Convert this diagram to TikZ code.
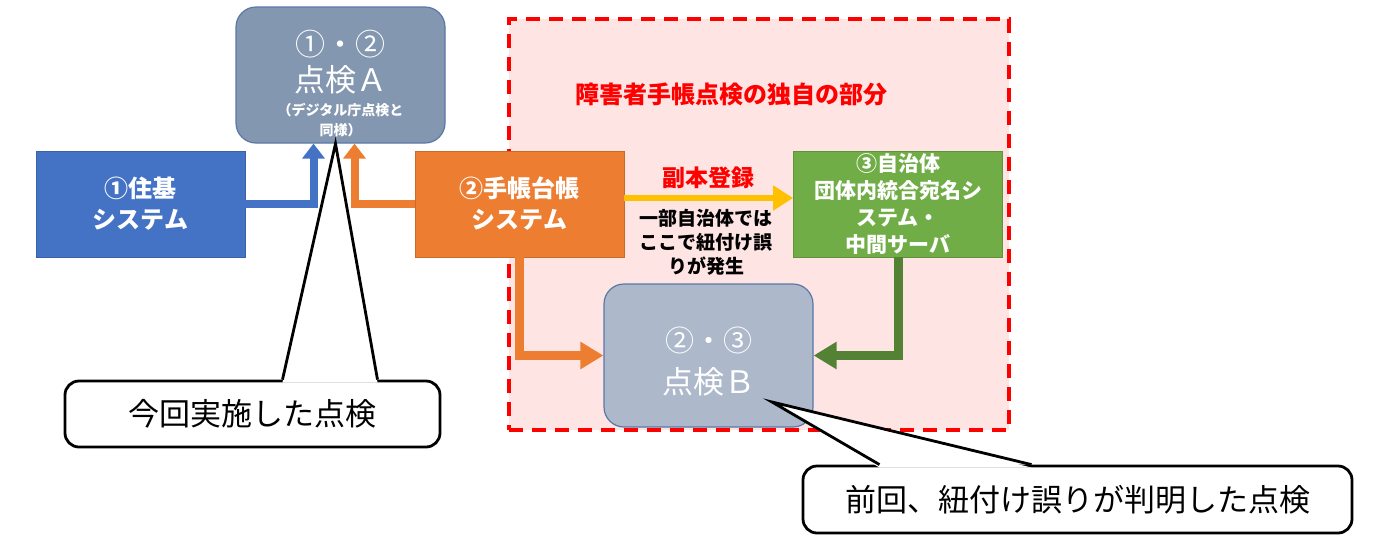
\documentclass[tikz,border=0pt]{standalone}
\usepackage{fontspec}
\setmainfont{Noto Sans CJK JP}
\usetikzlibrary{arrows.meta}
\definecolor{zonefill}{HTML}{FFE4E4}
\definecolor{zonered}{HTML}{FF0000}
\definecolor{afill}{HTML}{8497B0}
\definecolor{bfill}{HTML}{ADB9CA}
\definecolor{abord}{HTML}{5A77A8}
\definecolor{jblue}{HTML}{4472C4}
\definecolor{torange}{HTML}{ED7D31}
\definecolor{jgreen}{HTML}{70AD47}
\definecolor{dgreen}{HTML}{548235}
\definecolor{yel}{HTML}{FFC000}
\newcommand{\fs}[2]{\fontsize{#1pt}{#2pt}\selectfont}
\begin{document}
\begin{tikzpicture}[x=1pt,y=-1pt,
  sysbox/.style={draw=#1!85!black, line width=0.8pt, fill=#1, text=white, font=\bfseries\fs{24}{31}, align=center, minimum width=209pt, minimum height=106pt, inner sep=0pt},
  checkbox/.style={draw=abord, line width=1.2pt, rounded corners=20pt, fill=#1, minimum width=209pt, inner sep=0pt},
  wtext/.style={text=white, inner sep=0pt, align=center},
  fat/.style={line width=#1, draw},
  callout/.style={draw=black, line width=2.8pt, rounded corners=14pt, fill=white, inner sep=0pt, font=\fs{31}{36}},
  tail/.style={draw=black, line width=2.8pt, line join=miter}
]
\useasboundingbox (0,0) rectangle (1392,555);
\fill[white] (0,0) rectangle (1392,555);

% zone
\node[draw=zonered, fill=zonefill, line width=3.5pt, dash pattern=on 14pt off 9pt, minimum width=500pt, minimum height=411pt, anchor=north west, inner sep=0pt] (zone) at (507,17) {};
\node[text=zonered, font=\bfseries\fs{24}{28}, inner sep=0pt] (zonetitle) at (731,94) {障害者手帳点検の独自の部分};

% boxes
\node[checkbox=afill, minimum height=136pt] (A) at (340.5,75) {};
\node[wtext, font=\fs{30}{34}] (A1) at (340.5,44) {①・②};
\node[wtext, font=\fs{31}{34}] (A2) at (340.5,80) {点検Ａ};
\node[wtext, font=\bfseries\fs{14}{20}] (A3) at (340.5,120) {（デジタル庁点検と\\同様）};

\node[sysbox=jblue] (jk) at (140.5,204) {①住基\\システム};
\node[sysbox=torange] (tc) at (519.5,204) {②手帳台帳\\システム};
\node[sysbox=jgreen, font=\bfseries\fs{21}{27}] (ji) at (898,204) {③自治体\\団体内統合宛名シ\\ステム・\\中間サーバ};

\node[checkbox=bfill, minimum height=143pt] (B) at (708.5,355.5) {};
\node[wtext, font=\fs{29}{34}] (B1) at (708.5,340) {②・③};
\node[wtext, font=\fs{31}{34}] (B2) at (708.5,382) {点検Ｂ};

% arrows
\draw[fat=8pt, jblue, -{Triangle[length=15pt,width=22pt]}] (jk.east) -| ([xshift=-27pt]A.south);
\draw[fat=8pt, torange, -{Triangle[length=15pt,width=22pt]}] (tc.west) -| ([xshift=14pt]A.south);
\draw[fat=9pt, torange, -{Triangle[length=23pt,width=26pt]}] (tc.south) |- (B.west);
\draw[fat=9pt, dgreen, -{Triangle[length=23pt,width=26pt]}] (ji.south) |- (B.east);
\draw[fat=6pt, yel, -{Triangle[length=20pt,width=24pt]}] ([yshift=6pt]tc.east) -- ([yshift=6pt]ji.west);

\node[text=zonered, font=\bfseries\fs{23}{28}, inner sep=0pt] (fuku) at (708,178) {副本登録};
\node[font=\bfseries\fs{19}{24}, align=center, inner sep=0pt] (note) at (706,242) {一部自治体では\\ここで紐付け誤\\りが発生};

% callout 1
\node[callout, minimum width=375pt, minimum height=66pt] (C1) at (252.5,414) {今回実施した点検};
\coordinate (t1) at ([xshift=-5pt]A.south);
\fill[white] ([xshift=30pt,yshift=-3pt]C1.north) -- (t1) -- ([xshift=125pt,yshift=-3pt]C1.north) -- cycle;
\draw[tail] ([xshift=30pt]C1.north) -- (t1) -- ([xshift=125pt]C1.north);

% callout 2
\node[callout, minimum width=549pt, minimum height=67pt] (C2) at (1077.5,499.5) {前回、紐付け誤りが判明した点検};
\coordinate (t2) at (772,402);
\fill[white] ([xshift=-198pt,yshift=-3pt]C2.north) -- (t2) -- ([xshift=-46pt,yshift=-3pt]C2.north) -- cycle;
\draw[tail] ([xshift=-198pt]C2.north) -- (t2) -- ([xshift=-46pt]C2.north);
\end{tikzpicture}
\end{document}
